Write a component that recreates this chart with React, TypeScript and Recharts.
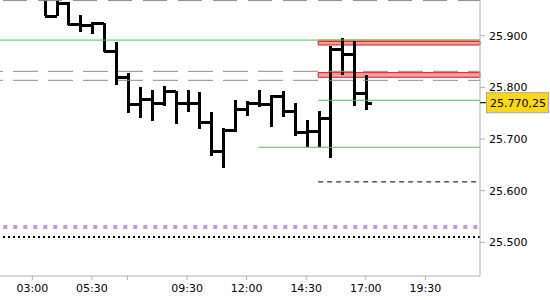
import { ComposedChart, Bar, XAxis, YAxis, ReferenceLine, ReferenceArea } from "recharts";

// 30-minute OHLC bars
const times = [
  "03:30", "04:00", "04:30", "05:00", "05:30", "06:00", "06:30", "07:00", "07:30", "08:00",
  "08:30", "09:00", "09:30", "10:00", "10:30", "11:00", "11:30", "12:00", "12:30", "13:00",
  "13:30", "14:00", "14:30", "15:00", "15:30", "16:00", "16:30", "17:00",
];
const opens = [
  25985, 25938, 25963, 25923, 25921, 25924, 25871, 25820, 25767, 25777,
  25769, 25793, 25769, 25769, 25732, 25677, 25717, 25759, 25770, 25768,
  25783, 25755, 25714, 25716, 25740, 25874, 25865, 25789,
];
const highs = [
  25995, 25975, 25966, 25940, 25927, 25925, 25888, 25828, 25800, 25795,
  25803, 25793, 25794, 25791, 25753, 25721, 25776, 25774, 25795, 25785,
  25793, 25769, 25737, 25754, 25880, 25895, 25890, 25824,
];
const lows = [
  25938, 25938, 25921, 25907, 25903, 25868, 25805, 25751, 25741, 25734,
  25764, 25729, 25753, 25719, 25668, 25644, 25713, 25745, 25761, 25724,
  25743, 25705, 25685, 25685, 25664, 25824, 25763, 25756,
];
const closes = [
  25938, 25963, 25923, 25921, 25924, 25871, 25820, 25767, 25777, 25769,
  25793, 25769, 25769, 25732, 25677, 25717, 25759, 25770, 25768, 25783,
  25755, 25714, 25716, 25740, 25874, 25865, 25789, 25770.25,
];

const xTicks = ["03:00", "05:30", "07:00", "09:30", "12:00", "14:30", "17:00", "19:30"];
const hiddenTickLabels = ["07:00"];
const yTicks = [25500, 25600, 25700, 25800, 25900];
const lastPrice = 25770.25;

// levels
const topDashed = 25968;
const grayDashed = [25831, 25813.6];
const greenFull = 25891.5;
const greenLate = 25775;
const greenMid = 25684;
const blackDashed = 25617;
const purpleDotted = 25529.6;
const blackDotted = 25510.3;
const zoneTop: [number, number] = [25882, 25893];
const zoneTopEdge: [number, number] = [25882, 25889];
const zoneLow: [number, number] = [25819.5, 25828.5];
const zoneStart = "15:00";
const midStart = "12:30";

const toMin = (t: string) => {
  const [h, m] = t.split(":").map(Number);
  return h * 60 + m;
};

const fmt = (v: number, dec = 0) => {
  const [i, d] = v.toFixed(dec).split(".");
  const int = i.replace(/\B(?=(\d{3})+(?!\d))/g, ".");
  return d ? `${int},${d}` : int;
};

const data = times.map((t, i) => ({
  t: toMin(t),
  open: opens[i],
  high: highs[i],
  low: lows[i],
  close: closes[i],
  range: [lows[i], highs[i]],
}));

const X_MIN = 98.6;
const X_MAX = 1307.7;
const font = "'DejaVu Sans', Verdana, sans-serif";

function OhlcShape(props: any) {
  const { x, y, width, height, payload } = props;
  const top = Math.min(y, y + height);
  const bottom = Math.max(y, y + height);
  const span = payload.high - payload.low || 1;
  const toY = (v: number) => top + ((payload.high - v) / span) * (bottom - top);
  const cx = Math.round(x + width / 2);
  const oy = Math.round(toY(payload.open));
  const cy = Math.round(toY(payload.close));
  return (
    <g stroke="#000" strokeWidth={3} shapeRendering="crispEdges">
      <line x1={cx} x2={cx} y1={top} y2={bottom} />
      <line x1={cx - 6} x2={cx} y1={oy} y2={oy} />
      <line x1={cx} x2={cx + 6} y1={cy} y2={cy} />
    </g>
  );
}

function PriceTick(props: any) {
  const { x, y, payload } = props;
  const v = payload.value;
  if (v === lastPrice) {
    return (
      <g>
        <line x1={x - 9} x2={x - 3} y1={y} y2={y} stroke="#000" />
        <rect x={x - 2.5} y={y - 10} width={62} height={20} fill="#ffd814" stroke="#a8a8a8" />
        <text x={x + 1} y={y + 4} fontSize={11} fontFamily={font} fill="#000">
          {fmt(v, 2)}
        </text>
      </g>
    );
  }
  return (
    <text x={x} y={y + 4} fontSize={11} fontFamily={font} fill="#000">
      {fmt(v)}
    </text>
  );
}

export default function App() {
  return (
    <div style={{ position: "absolute", left: 0, top: 0, background: "#fff" }}>
      <ComposedChart
        width={550}
        height={300}
        data={data}
        margin={{ top: 0, right: 0, bottom: 0, left: 0 }}
      >
        <XAxis
          dataKey="t"
          type="number"
          domain={[X_MIN, X_MAX]}
          allowDataOverflow
          ticks={xTicks.map(toMin)}
          interval={0}
          tickFormatter={(v: number) => {
            const s = `${String(Math.floor(v / 60)).padStart(2, "0")}:${String(v % 60).padStart(2, "0")}`;
            return hiddenTickLabels.includes(s) ? "" : s;
          }}
          height={24}
          stroke="#b0b0b0"
          tickSize={4}
          tickMargin={4}
          tick={{ fontSize: 11, fontFamily: font, fill: "#000" }}
        />
        <YAxis
          orientation="right"
          type="number"
          width={70}
          domain={[25434.8, 25969.1]}
          allowDataOverflow
          ticks={[...yTicks, lastPrice]}
          interval={0}
          stroke="#b0b0b0"
          tickSize={5}
          tickMargin={4}
          tick={<PriceTick />}
        />
        <ReferenceLine y={topDashed} stroke="#8c8c8c" strokeDasharray="24 11" strokeDashoffset={2} />
        {grayDashed.map((v) => (
          <ReferenceLine key={v} y={v} stroke="#8c8c8c" strokeDasharray="25 10" strokeDashoffset={13} />
        ))}
        <ReferenceArea x1={toMin(zoneStart)} y1={zoneTop[0]} y2={zoneTop[1]} fill="#f4a0a0" fillOpacity={1} stroke="none" />
        <ReferenceArea x1={toMin(zoneStart)} y1={zoneTopEdge[0]} y2={zoneTopEdge[1]} fill="none" stroke="#e01818" strokeWidth={1} />
        <ReferenceArea x1={toMin(zoneStart)} y1={zoneLow[0]} y2={zoneLow[1]} fill="#f4a0a0" fillOpacity={1} stroke="#e01818" strokeWidth={1} />
        <ReferenceLine y={greenFull} stroke="#44c844" />
        <ReferenceLine
          segment={[{ x: toMin(zoneStart), y: greenLate }, { x: X_MAX, y: greenLate }]}
          stroke="#44c844"
        />
        <ReferenceLine
          segment={[{ x: toMin(midStart), y: greenMid }, { x: X_MAX, y: greenMid }]}
          stroke="#5cb85c"
        />
        <ReferenceLine
          segment={[{ x: toMin(zoneStart), y: blackDashed }, { x: X_MAX, y: blackDashed }]}
          stroke="#000"
          strokeDasharray="5 4"
        />
        <ReferenceLine y={purpleDotted} stroke="#c896e0" strokeWidth={4} strokeDasharray="4 6" strokeDashoffset={7.3} />
        <ReferenceLine y={blackDotted} stroke="#000" strokeWidth={2} strokeDasharray="2 3" />
        <Bar
          dataKey="range"
          barSize={12}
          shape={<OhlcShape />}
          isAnimationActive={false}
        />
      </ComposedChart>
    </div>
  );
}
